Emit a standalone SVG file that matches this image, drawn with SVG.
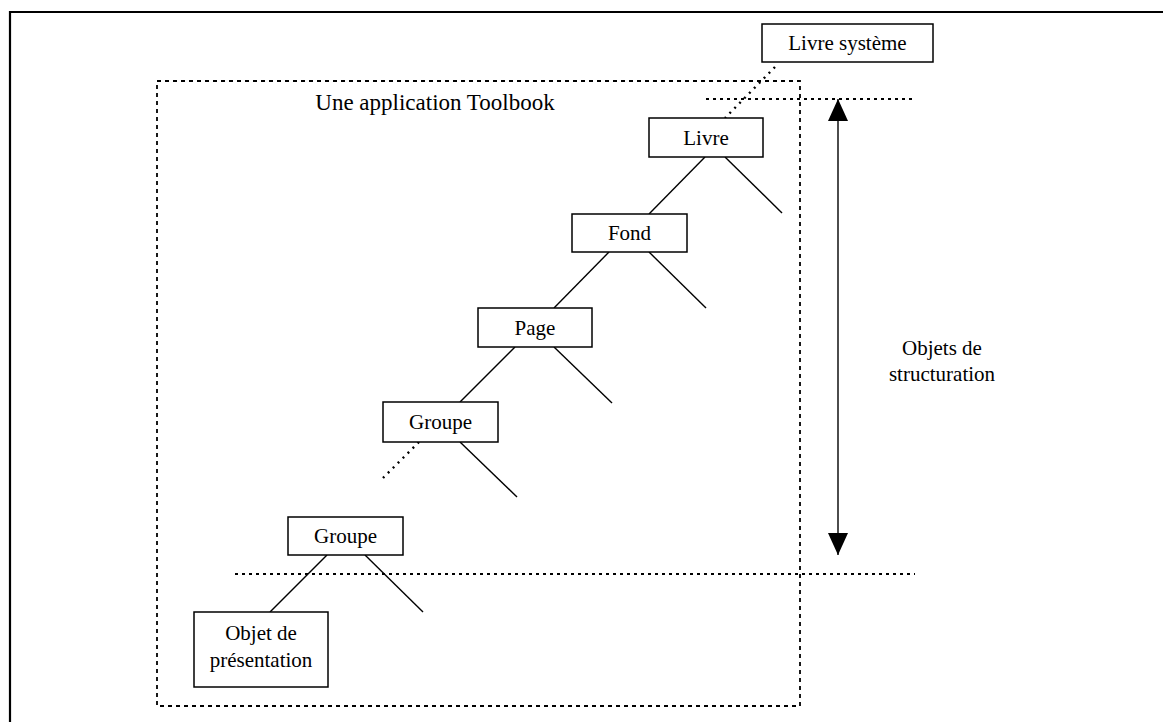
<svg xmlns="http://www.w3.org/2000/svg" width="1163" height="722" viewBox="0 0 1163 722">
<style>
.box{fill:#fff;stroke:#000;stroke-width:1.5}
.t{font-family:"Liberation Serif","Times New Roman",serif;font-size:21px;fill:#000;text-anchor:middle}
.ln{stroke:#000;stroke-width:1.4;fill:none}
.dot{stroke:#000;stroke-width:2.4;fill:none;stroke-dasharray:2 5}
.dash{stroke:#000;stroke-width:1.8;fill:none;stroke-dasharray:4 4}
</style>
<defs>
<marker id="ah" viewBox="0 0 22 20" refX="22" refY="10" markerWidth="22" markerHeight="20" markerUnits="userSpaceOnUse" orient="auto">
<path d="M0,0 L22,10 L0,20 Z" fill="#000"/>
</marker>
</defs>
<rect width="1163" height="722" fill="#fff"/>
<g id="frame">
<line x1="9" y1="12" x2="1163" y2="12" stroke="#000" stroke-width="2.2"/>
<line x1="10" y1="11" x2="10" y2="722" stroke="#000" stroke-width="2.2"/>
</g>
<g id="application">
<rect class="dash" x="157" y="81" width="643" height="625"/>
<text x="435" y="110" class="t" style="font-size:23px">Une application Toolbook</text>
</g>
<g id="connectors">
<line class="dot" x1="775" y1="67" x2="725" y2="118"/>
<line class="ln" x1="705" y1="157" x2="649" y2="214"/>
<line class="ln" x1="725" y1="157" x2="782" y2="213"/>
<line class="ln" x1="609" y1="252" x2="554" y2="308"/>
<line class="ln" x1="649" y1="252" x2="706" y2="308"/>
<line class="ln" x1="515" y1="347" x2="460" y2="402"/>
<line class="ln" x1="554" y1="347" x2="612" y2="403"/>
<line class="dot" x1="419" y1="442" x2="383" y2="478"/>
<line class="ln" x1="460" y1="442" x2="517" y2="497"/>
<line class="ln" x1="327" y1="555" x2="270" y2="612"/>
<line class="ln" x1="365" y1="555" x2="423" y2="612"/>
<line class="dash" x1="706" y1="99" x2="915" y2="99" style="stroke-dasharray:3 4"/>
<line class="dash" x1="235" y1="574" x2="915" y2="574" style="stroke-dasharray:3 4"/>
<line class="ln" x1="838" y1="325" x2="838" y2="99" marker-end="url(#ah)"/>
<line class="ln" x1="838" y1="325" x2="838" y2="555" marker-end="url(#ah)"/>
</g>
<g id="livre-systeme">
<rect class="box" x="762" y="24" width="171" height="38"/>
<text class="t" x="847.5" y="50">Livre système</text>
</g>
<g id="livre">
<rect class="box" x="649" y="118" width="114" height="39"/>
<text class="t" x="706" y="145">Livre</text>
</g>
<g id="fond">
<rect class="box" x="572" y="214" width="115" height="38"/>
<text class="t" x="629.5" y="240">Fond</text>
</g>
<g id="page">
<rect class="box" x="478" y="308" width="114" height="39"/>
<text class="t" x="535" y="335">Page</text>
</g>
<g id="groupe1">
<rect class="box" x="383" y="402" width="115" height="40"/>
<text class="t" x="440.5" y="429">Groupe</text>
</g>
<g id="groupe2">
<rect class="box" x="288" y="517" width="115" height="38"/>
<text class="t" x="345.5" y="543">Groupe</text>
</g>
<g id="objet-presentation">
<rect class="box" x="194" y="612" width="134" height="75"/>
<text class="t" x="261" y="640">Objet de</text>
<text class="t" x="261" y="667">présentation</text>
</g>
<g id="label-structuration">
<text class="t" x="942" y="355">Objets de</text>
<text class="t" x="942" y="381">structuration</text>
</g>
</svg>
